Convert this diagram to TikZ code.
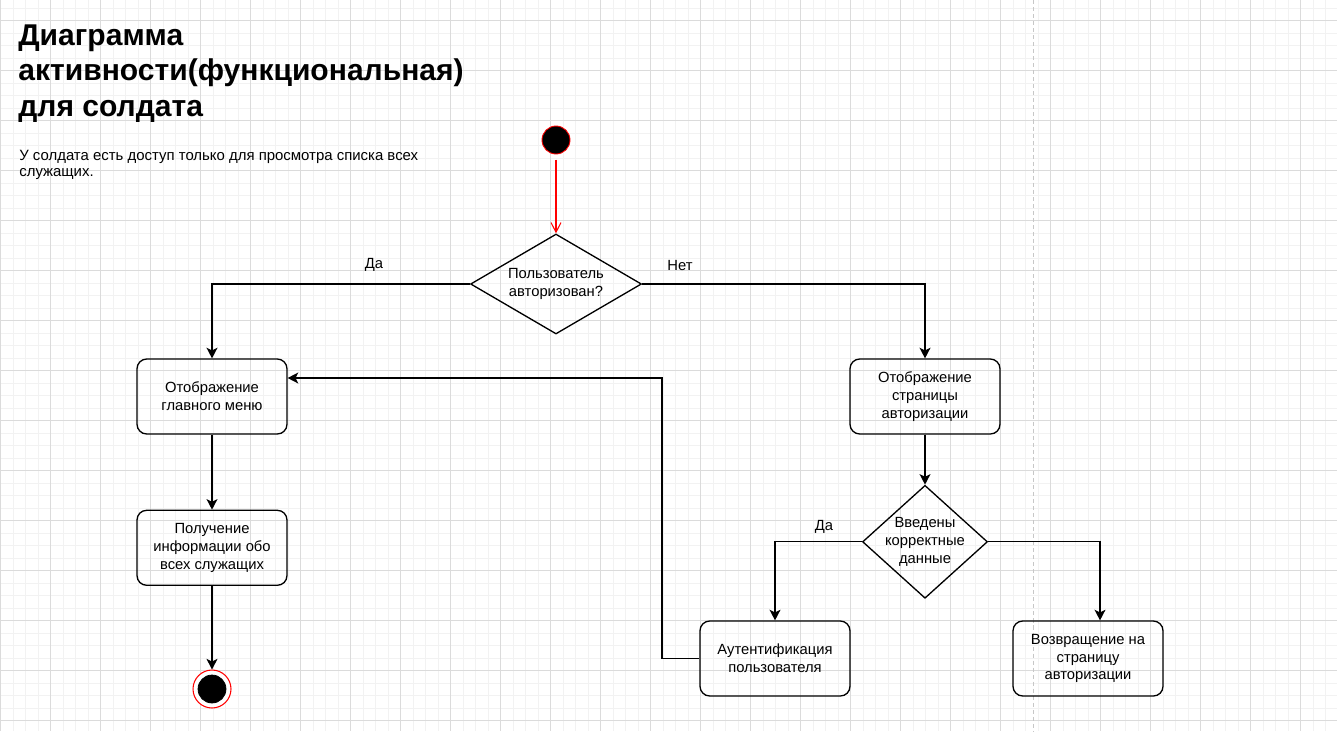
\documentclass[tikz,border=0pt]{standalone}
\usepackage{fontspec}
\setmainfont{Liberation Sans}
\usetikzlibrary{arrows.meta,positioning,shapes.geometric}

\begin{document}
\begin{tikzpicture}[x=0.02cm, y=-0.02cm, node distance=1.5cm,
  box/.style={draw, rounded corners=5.5pt, minimum width=3cm, minimum height=1.5cm, align=center, line width=0.75pt, font=\fontsize{8.4}{10.2}\selectfont},
  decision/.style={draw, shape=diamond, line width=0.75pt, inner sep=0pt},
  txt/.style={align=center, font=\fontsize{8.4}{10.2}\selectfont},
  flow/.style={-{Stealth[length=6pt,width=6.2pt,inset=1.5pt]}, line width=0.75pt},
  gridminor/.style={draw=black!5, line width=0.55pt},
  gridmajor/.style={draw=black!14, line width=0.55pt},
  dashline/.style={draw=black!22, line width=0.6pt, dash pattern=on 2.3pt off 1.7pt}]

\useasboundingbox (0,0) rectangle (1337,731);
\fill[white] (0,0) rectangle (1337,731);

%background grid
\foreach \k in {0,...,106} \draw[gridminor] ({0.7+12.5*\k},0) -- ({0.7+12.5*\k},731);
\foreach \k in {0,...,57} \draw[gridminor] (0,{8.2+12.5*\k}) -- (1337,{8.2+12.5*\k});
\foreach \k in {0,...,26} \draw[gridmajor] ({0.7+50*\k},0) -- ({0.7+50*\k},731);
\foreach \k in {0,...,14} \draw[gridmajor] (0,{20.7+50*\k}) -- (1337,{20.7+50*\k});
\draw[dashline] (1033.5,0) -- (1033.5,731);

\node[anchor=north west, inner sep=0pt, align=left, font=\fontsize{17.1}{20.4}\selectfont\bfseries] (title) at (18,24) {Диаграмма\\активности(функциональная)\\для солдата};
\node[anchor=north west, inner sep=0pt, align=left, font=\fontsize{8.5}{9.3}\selectfont] (note) at (19,150) {У солдата есть доступ только для просмотра списка всех\\служащих.};

\node[draw=red, fill=black, shape=circle, minimum size=0.56cm, inner sep=0pt, line width=0.5pt] (start) at (556,140) {};
\node[decision, minimum width=3.42cm, minimum height=2cm] (d1) at (556,284) {};
\node[txt] (d1t) at (d1) {Пользователь\\авторизован?};

\node[box] (menu) at (212,396.5) {Отображение\\главного меню};
\node[box, below=1.5cm of menu] (info) {Получение\\информации обо\\всех служащих};
\node[draw=red, fill=white, shape=circle, minimum size=0.76cm, inner sep=0pt, line width=0.6pt] (fin) at (212,689) {};
\node[draw, fill=black, shape=circle, minimum size=0.56cm, inner sep=0pt] (finc) at (fin) {};

\node[box] (authpage) at (925,396.5) {Отображение\\страницы\\авторизации};
\node[decision, minimum width=2.5cm, minimum height=2.26cm, below=1cm of authpage] (d2) {};
\node[txt] (d2t) at (d2) {Введены\\корректные\\данные};
\node[box] (authuser) at (775,658.5) {Аутентификация\\пользователя};
\node[box] (back) at (1088,658.5) {Возвращение на\\страницу\\авторизации};

\node[txt] (yes1) at (374,265) {Да};
\node[txt] (no1) at (680,265) {Нет};
\node[txt] (yes2) at (824,527) {Да};

\draw[-{Straight Barb[length=5.5pt,width=5.7pt]}, red, line width=0.6pt, shorten <=3pt] (start) to (d1);
\draw[flow] (d1.west) -| (menu.north);
\draw[flow] (d1.east) -| (authpage.north);
\draw[flow] (menu) to (info);
\draw[flow] (info) to (fin);
\draw[flow] (authpage) to (d2);
\draw[flow] (d2.west) -| (authuser.north);
\draw[flow] (d2.east) -| ([xshift=0.24cm]back.north);
\coordinate (loop) at (662,378);
\draw[flow] (authuser.west) -| (loop) -- (loop -| menu.east);

\end{tikzpicture}
\end{document}
